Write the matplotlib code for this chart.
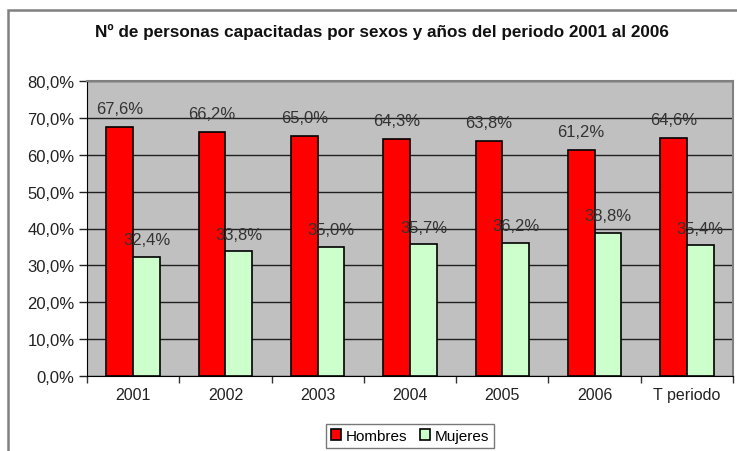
import matplotlib.pyplot as plt
from matplotlib.patches import Rectangle
from matplotlib.ticker import FuncFormatter, MultipleLocator
import numpy as np

plt.rcParams['font.family'] = ['Liberation Sans', 'DejaVu Sans']

# datos
categorias = ["2001", "2002", "2003", "2004", "2005", "2006", "T periodo"]
hombres = [67.6, 66.2, 65.0, 64.3, 63.8, 61.2, 64.6]
mujeres = [32.4, 33.8, 35.0, 35.7, 36.2, 38.8, 35.4]
titulo = "Nº de personas capacitadas por sexos y años del periodo 2001 al 2006"

fig = plt.figure(figsize=(7.37, 4.52), dpi=100)

# marco exterior (recortado a la derecha y abajo)
fig.patches.append(Rectangle((8 / 737, -0.1), 1.2, 1 - 11 / 452 + 0.1,
                             transform=fig.transFigure, fill=False,
                             edgecolor='#808080', linewidth=1.8))

ax = fig.add_axes([87 / 737, 75 / 452, 646 / 737, 295 / 452])
ax.set_facecolor('#C0C0C0')

x = np.arange(len(categorias))
w = 0.29
ax.bar(x - w / 2, hombres, w, color='#FF0000', edgecolor='black', linewidth=1.2,
       label='Hombres', zorder=3)
ax.bar(x + w / 2, mujeres, w, color='#CCFFCC', edgecolor='black', linewidth=1.2,
       label='Mujeres', zorder=3)

for i in range(len(categorias)):
    ax.text(x[i] - w / 2, hombres[i] + 5.0, f"{hombres[i]:.1f}%".replace('.', ','),
            ha='center', va='center', fontsize=12, color='#333333', zorder=4)
    ax.text(x[i] + w / 2, mujeres[i] + 4.6, f"{mujeres[i]:.1f}%".replace('.', ','),
            ha='center', va='center', fontsize=12, color='#333333', zorder=4)

ax.set_ylim(0, 80)
ax.set_xlim(-0.5, len(categorias) - 0.5)
ax.yaxis.set_major_locator(MultipleLocator(10))
ax.yaxis.set_major_formatter(FuncFormatter(lambda v, p: f"{v:.1f}%".replace('.', ',')))
ax.grid(axis='y', color='#202020', linewidth=1.0, zorder=1)
ax.set_axisbelow(True)

ax.set_xticks(x)
ax.set_xticklabels(categorias)
ax.set_xticks(np.arange(-0.5, len(categorias)), minor=True)
ax.tick_params(axis='x', which='major', length=0, labelsize=11.5, pad=8, labelcolor='#222222')
ax.tick_params(axis='x', which='minor', length=5, width=1, direction='out', color='#333333')
ax.tick_params(axis='y', length=6, width=1, direction='out', labelsize=12,
               labelcolor='#222222', color='#222222', pad=3)

for s in ['top', 'right']:
    ax.spines[s].set_color('#808080')
    ax.spines[s].set_linewidth(1.5)
ax.spines['left'].set_color('black')
ax.spines['bottom'].set_color('black')

fig.text(382 / 737, 1 - 32 / 452, titulo, ha='center', va='center',
         fontsize=12.3, fontweight='bold', color='#111111')

leg = fig.legend(loc='center', bbox_to_anchor=(410 / 737, 1 - 437 / 452), ncol=2,
                 fontsize=11, frameon=True, fancybox=False, edgecolor='#555555',
                 handlelength=0.7, handleheight=0.7, handletextpad=0.3,
                 columnspacing=0.8, borderpad=0.3)
leg.get_frame().set_linewidth(1.0)

fig.savefig("out.png", dpi=100)
